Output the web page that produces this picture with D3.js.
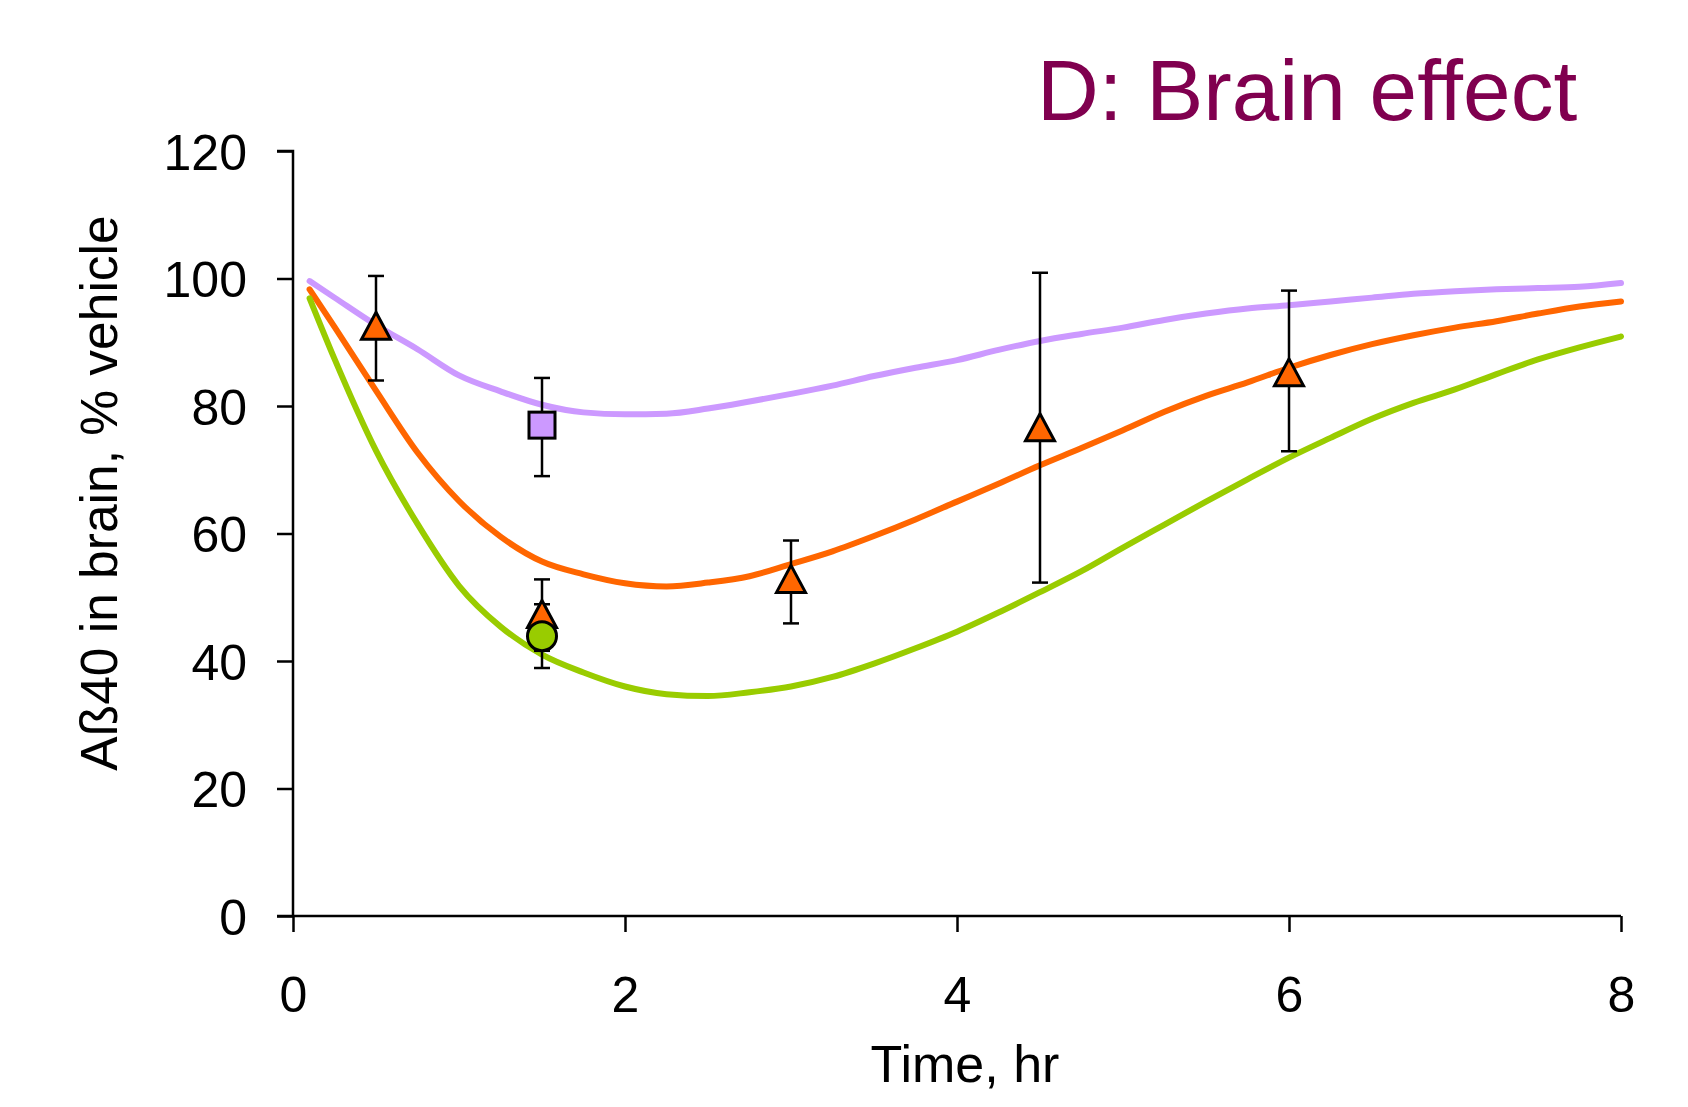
<!DOCTYPE html>
<html>
<head>
<meta charset="utf-8">
<script src="https://cdn.jsdelivr.net/npm/d3@7"></script>
<style>
  html, body { margin: 0; padding: 0; background: #fff; }
  svg { display: block; font-family: "Liberation Sans", Arial, sans-serif; }
</style>
</head>
<body>
<svg id="chart" width="1688" height="1107"></svg>
<script>
// ---- data ----
const times = [0.1,0.25,0.5,0.75,1,1.25,1.5,1.75,2,2.25,2.5,2.75,3,3.25,3.5,3.75,4,4.25,4.5,4.75,5,5.25,5.5,5.75,6,6.25,6.5,6.75,7,7.25,7.5,7.75,8];
const lavenderCurve = [99.6,97.0,92.7,88.9,84.8,82.3,80.2,79.0,78.7,78.8,79.6,80.7,81.9,83.2,84.7,86.0,87.2,88.8,90.2,91.3,92.3,93.5,94.5,95.3,95.8,96.4,97.0,97.6,98.0,98.3,98.5,98.7,99.3];
const orangeCurve   = [98.3,92.4,82.4,72.7,65.1,59.5,55.6,53.6,52.2,51.7,52.3,53.3,55.2,57.2,59.6,62.2,65.0,67.8,70.7,73.4,76.2,79.1,81.6,83.7,86.0,88.0,89.7,91.1,92.3,93.3,94.5,95.6,96.4];
const greenCurve    = [96.9,87.4,73.0,61.5,51.8,45.4,41.0,38.2,36.0,34.8,34.5,35.1,36.0,37.5,39.6,42.0,44.6,47.6,50.8,54.1,57.8,61.4,65.0,68.5,71.9,75.0,78.0,80.5,82.6,85.0,87.3,89.2,90.9];

const orangeTimes = [0.5, 1.5, 3, 4.5, 6];
const orangeMean  = [92.5, 47.3, 52.8, 76.6, 85.2];
const orangeLow   = [84.0, 41.6, 45.9, 52.3, 72.9];
const orangeHigh  = [100.4, 52.8, 58.9, 100.9, 98.1];

const lavenderTimes = [1.5];
const lavenderMean  = [77.0];
const lavenderLow   = [69.0];
const lavenderHigh  = [84.4];

const greenTimes = [1.5];
const greenMean  = [43.9];
const greenLow   = [38.9];
const greenHigh  = [48.9];

const xTicks = [0, 2, 4, 6, 8];
const yTicks = [0, 20, 40, 60, 80, 100, 120];

const titleText = "D: Brain effect";
const xTitle = "Time, hr";
const yTitle = "Aß40 in brain, % vehicle";

// ---- layout ----
const svg = d3.select("#chart");
const x = d3.scaleLinear().domain([0, 8]).range([293, 1621]);
const y = d3.scaleLinear().domain([0, 120]).range([916, 151]);

const COL_LAV = "#CC99FF", COL_OR = "#FF6600", COL_GR = "#99CC00";

// axes
const xAxis = d3.axisBottom(x).tickValues(xTicks).tickSize(16).tickPadding(44).tickFormat(d3.format("d"));
const yAxis = d3.axisLeft(y).tickValues(yTicks).tickSize(16).tickPadding(30).tickFormat(d3.format("d"));

const gx = svg.append("g").attr("transform", `translate(0,${y(0)})`).call(xAxis);
const gy = svg.append("g").attr("transform", `translate(${x(0)},0)`).call(yAxis);
[gx, gy].forEach(g => {
  g.select(".domain").attr("stroke", "#000").attr("stroke-width", 2.5);
  g.selectAll(".tick line").attr("stroke", "#000").attr("stroke-width", 2.5);
  g.selectAll(".tick text").attr("fill", "#000").style("font-size", "50px")
    .style("font-family", '"Liberation Sans", Arial, sans-serif');
});
gy.select(".domain").attr("d", `M-16,${y(120)}H0V${y(0)}H-16`);
gx.select(".domain").attr("d", `M${x(0)},0H${x(8)}`);
gx.selectAll(".tick text").attr("dy", "0.71em");
gy.selectAll(".tick text").attr("dy", "0.36em");

// curves
const line = d3.line().x(d => x(d[0])).y(d => y(d[1])).curve(d3.curveMonotoneX);
[[lavenderCurve, COL_LAV], [orangeCurve, COL_OR], [greenCurve, COL_GR]].forEach(([vals, col]) => {
  svg.append("path")
    .datum(times.map((t, i) => [t, vals[i]]))
    .attr("d", line)
    .attr("fill", "none")
    .attr("stroke", col)
    .attr("stroke-width", 6)
    .attr("stroke-linejoin", "round")
    .attr("stroke-linecap", "round");
});

// error bars
function errorBars(ts, lo, hi) {
  const g = svg.append("g").attr("stroke", "#000").attr("stroke-width", 2.5);
  ts.forEach((t, i) => {
    g.append("line").attr("x1", x(t)).attr("x2", x(t)).attr("y1", y(lo[i])).attr("y2", y(hi[i]));
    g.append("line").attr("x1", x(t) - 8).attr("x2", x(t) + 8).attr("y1", y(lo[i])).attr("y2", y(lo[i]));
    g.append("line").attr("x1", x(t) - 8).attr("x2", x(t) + 8).attr("y1", y(hi[i])).attr("y2", y(hi[i]));
  });
}
errorBars(lavenderTimes, lavenderLow, lavenderHigh);
errorBars(orangeTimes, orangeLow, orangeHigh);
errorBars(greenTimes, greenLow, greenHigh);

// markers
const tri = "M0,-14L14.5,13L-14.5,13Z";
svg.append("g").selectAll("rect").data(lavenderTimes.map((t, i) => [t, lavenderMean[i]])).join("rect")
  .attr("x", d => x(d[0]) - 13).attr("y", d => y(d[1]) - 13).attr("width", 26).attr("height", 26)
  .attr("fill", COL_LAV).attr("stroke", "#000").attr("stroke-width", 3);
svg.append("g").selectAll("path").data(orangeTimes.map((t, i) => [t, orangeMean[i]])).join("path")
  .attr("transform", d => `translate(${x(d[0])},${y(d[1])})`).attr("d", tri)
  .attr("fill", COL_OR).attr("stroke", "#000").attr("stroke-width", 3).attr("stroke-linejoin", "miter");
svg.append("g").selectAll("circle").data(greenTimes.map((t, i) => [t, greenMean[i]])).join("circle")
  .attr("cx", d => x(d[0])).attr("cy", d => y(d[1])).attr("r", 14.5)
  .attr("fill", COL_GR).attr("stroke", "#000").attr("stroke-width", 3);

// titles
svg.append("text").attr("x", 1037).attr("y", 120).attr("fill", "#80004F")
  .style("font-size", "85.5px").text(titleText);
svg.append("text").attr("x", 965).attr("y", 1082).attr("text-anchor", "middle")
  .style("font-size", "52px").attr("fill", "#000").text(xTitle);
svg.append("text").attr("transform", `translate(117,${493}) rotate(-90)`).attr("text-anchor", "middle")
  .style("font-size", "51.5px").attr("fill", "#000").text(yTitle);
</script>
</body>
</html>
